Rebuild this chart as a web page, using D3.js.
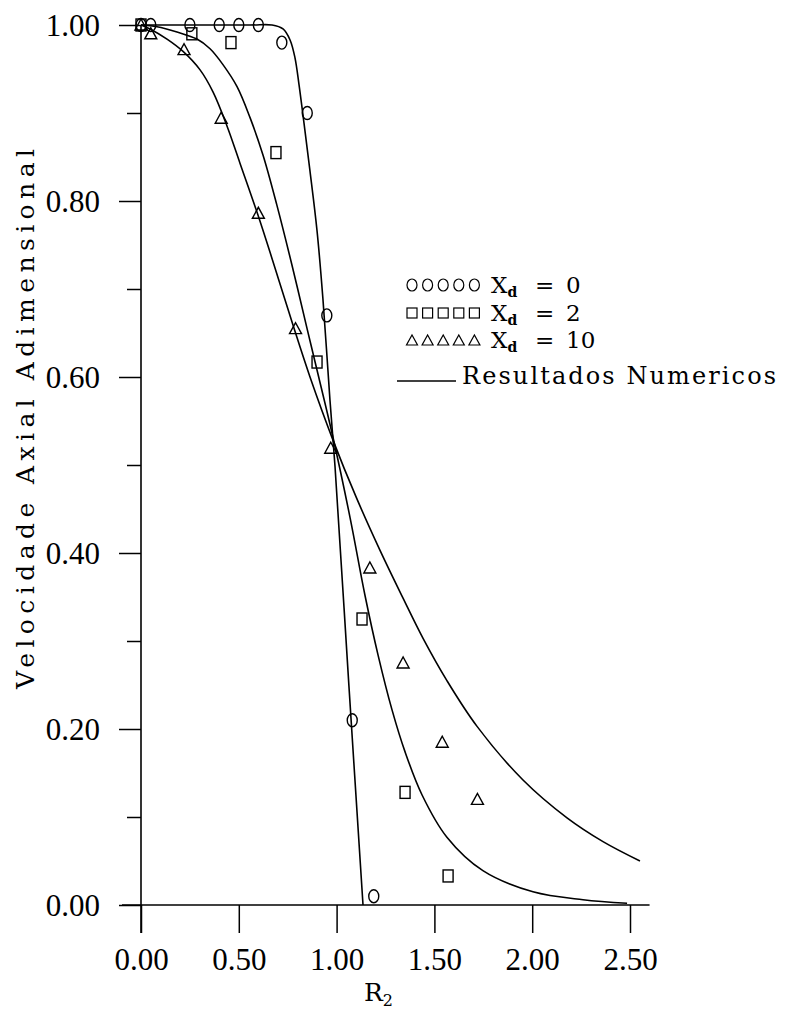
<!DOCTYPE html>
<html><head><meta charset="utf-8">
<script src="https://cdn.jsdelivr.net/npm/d3@7"></script>
<style>
html,body{margin:0;padding:0;background:#fff;}
svg{display:block;}
</style></head>
<body>
<svg id="chart" width="786" height="1013"></svg>
<script>
// ---- data ----
const circleX = [0.00, 0.05, 0.25, 0.40, 0.50, 0.60, 0.72, 0.85, 0.95, 1.08, 1.19];
const circleY = [1.00, 1.00, 1.00, 1.00, 1.00, 1.00, 0.98, 0.90, 0.67, 0.21, 0.01];

const squareX = [0.00, 0.26, 0.46, 0.69, 0.90, 1.13, 1.35, 1.57];
const squareY = [1.00, 0.99, 0.98, 0.855, 0.617, 0.325, 0.128, 0.033];

const triX = [0.00, 0.05, 0.22, 0.41, 0.60, 0.79, 0.97, 1.17, 1.34, 1.54, 1.72];
const triY = [1.00, 0.99, 0.972, 0.894, 0.786, 0.655, 0.519, 0.383, 0.275, 0.185, 0.12];

const curve0X = [0, 0.557, 0.670, 0.726, 0.762, 0.787, 0.808, 0.833, 0.864, 0.900, 0.930, 0.966, 0.992, 1.063, 1.135];
const curve0Y = [1, 1.0, 1.0, 0.9955, 0.983, 0.963, 0.932, 0.889, 0.834, 0.766, 0.689, 0.574, 0.498, 0.249, 0.0];

const curve2X = [0, 0.082, 0.184, 0.286, 0.353, 0.419, 0.491, 0.557, 0.624, 0.695, 0.772, 0.849, 0.890, 0.982, 1.069, 1.145, 1.212, 1.283, 1.350, 1.437, 1.564, 1.748, 2.004, 2.260, 2.485];
const curve2Y = [1, 0.998, 0.992, 0.984, 0.973, 0.955, 0.930, 0.895, 0.852, 0.795, 0.727, 0.655, 0.617, 0.531, 0.440, 0.352, 0.284, 0.222, 0.174, 0.125, 0.077, 0.039, 0.015, 0.006, 0.002];

const curve10X = [0, 0.046, 0.133, 0.215, 0.302, 0.368, 0.440, 0.506, 0.598, 0.675, 0.777, 0.864, 0.982, 1.099, 1.222, 1.339, 1.442, 1.564, 1.718, 1.953, 2.178, 2.362, 2.551];
const curve10Y = [1, 0.9955, 0.984, 0.970, 0.949, 0.924, 0.885, 0.843, 0.784, 0.731, 0.659, 0.600, 0.528, 0.464, 0.403, 0.349, 0.303, 0.255, 0.203, 0.142, 0.099, 0.072, 0.050];

const xTickValues = [0, 0.5, 1.0, 1.5, 2.0, 2.5];
const xTickLabels = ["0.00", "0.50", "1.00", "1.50", "2.00", "2.50"];
const yMajorValues = [0, 0.2, 0.4, 0.6, 0.8, 1.0];
const yTickLabels = ["0.00", "0.20", "0.40", "0.60", "0.80", "1.00"];
const yMinorValues = [0.1, 0.3, 0.5, 0.7, 0.9];

const legendValues = ["0", "2", "10"];
const legendLineLabel = "Resultados Numericos";
const xTitle = "R";
const xTitleSub = "2";
const yTitle = "Velocidade Axial Adimensional";

// ---- drawing ----
const svg = d3.select("#chart");
const x = d3.scaleLinear().domain([0, 2.5]).range([141, 630]);
const y = d3.scaleLinear().domain([0, 1]).range([905, 25]);
const ink = "#000";
const serif1 = '"Liberation Serif",serif';
const serif2 = '"DejaVu Serif",serif';

// axes
const gx = svg.append("g").attr("transform", `translate(0,${y(0)})`)
  .call(d3.axisBottom(x).tickValues(xTickValues).tickSize(28).tickPadding(15)
        .tickFormat((d, i) => xTickLabels[i]));
gx.select(".domain").remove();
gx.selectAll(".tick line").attr("stroke", ink).attr("stroke-width", 1.5);
gx.selectAll(".tick text").style("font-size", "31px").style("font-family", serif1)
  .attr("fill", ink).attr("dy", "0.72em");

const gy = svg.append("g").attr("transform", `translate(${x(0)},0)`)
  .call(d3.axisLeft(y).tickValues(yMajorValues).tickSize(22).tickPadding(19)
        .tickFormat((d, i) => yTickLabels[i]));
gy.select(".domain").remove();
gy.selectAll(".tick line").attr("stroke", ink).attr("stroke-width", 1.5);
gy.selectAll(".tick text").style("font-size", "31px").style("font-family", serif1)
  .attr("fill", ink).attr("dy", "0.35em");

const gyMinor = svg.append("g").attr("transform", `translate(${x(0)},0)`)
  .call(d3.axisLeft(y).tickValues(yMinorValues).tickSize(14).tickFormat(""));
gyMinor.select(".domain").remove();
gyMinor.selectAll(".tick line").attr("stroke", ink).attr("stroke-width", 1.5);

// axis lines
svg.append("line").attr("x1", x(0) - 19).attr("x2", x(2.6)).attr("y1", y(0)).attr("y2", y(0))
  .attr("stroke", ink).attr("stroke-width", 1.6);
svg.append("line").attr("x1", x(0)).attr("x2", x(0)).attr("y1", y(1)).attr("y2", y(0) + 28)
  .attr("stroke", ink).attr("stroke-width", 1.6);

// axis titles
const xt = svg.append("text").attr("x", 364).attr("y", 1001)
  .style("font-size", "25px").style("font-family", serif2).attr("fill", ink);
xt.append("tspan").text(xTitle);
xt.append("tspan").style("font-size", "16px").attr("dy", 5).text(xTitleSub);

svg.append("text")
  .attr("transform", `translate(34,419) rotate(-90)`)
  .attr("text-anchor", "middle")
  .style("font-size", "25px").style("font-family", serif2)
  .attr("textLength", 540).attr("lengthAdjust", "spacing")
  .attr("fill", ink)
  .text(yTitle);

// curves
const line = d3.line().x(d => x(d[0])).y(d => y(d[1])).curve(d3.curveCatmullRom.alpha(0.5));
[[curve0X, curve0Y], [curve2X, curve2Y], [curve10X, curve10Y]].forEach(([cx, cy]) => {
  svg.append("path").datum(cx.map((v, i) => [v, cy[i]]))
    .attr("d", line).attr("fill", "none").attr("stroke", ink).attr("stroke-width", 1.6);
});

// markers
function drawCircle(g, px, py) {
  g.append("ellipse").attr("cx", px).attr("cy", py).attr("rx", 5).attr("ry", 6.5)
    .attr("fill", "none").attr("stroke", ink).attr("stroke-width", 1.4);
}
function drawSquare(g, px, py) {
  g.append("rect").attr("x", px - 5).attr("y", py - 6).attr("width", 10).attr("height", 12)
    .attr("fill", "none").attr("stroke", ink).attr("stroke-width", 1.4);
}
function drawTri(g, px, py) {
  g.append("path").attr("d", `M${px - 6},${py + 5}L${px + 6},${py + 5}L${px},${py - 6}Z`)
    .attr("fill", "none").attr("stroke", ink).attr("stroke-width", 1.4);
}
const gm = svg.append("g");
circleX.forEach((v, i) => drawCircle(gm, x(v), y(circleY[i])));
squareX.forEach((v, i) => drawSquare(gm, x(v), y(squareY[i])));
triX.forEach((v, i) => drawTri(gm, x(v), y(triY[i])));

// legend
const lg = svg.append("g");
const rowY = [285, 313, 340];
rowY.forEach((ry, r) => {
  for (let k = 0; k < 5; k++) {
    const px = 412 + k * 15.6;
    if (r === 0) lg.append("ellipse").attr("cx", px).attr("cy", ry).attr("rx", 5).attr("ry", 6)
      .attr("fill", "none").attr("stroke", ink).attr("stroke-width", 1.2);
    else if (r === 1) lg.append("rect").attr("x", px - 5).attr("y", ry - 5).attr("width", 10).attr("height", 10)
      .attr("fill", "none").attr("stroke", ink).attr("stroke-width", 1.2);
    else lg.append("path").attr("d", `M${px - 5.5},${ry + 5}L${px + 5.5},${ry + 5}L${px},${ry - 5}Z`)
      .attr("fill", "none").attr("stroke", ink).attr("stroke-width", 1.2);
  }
  const t = lg.append("text").attr("x", 491).attr("y", ry + 8)
    .style("font-size", "23px").style("font-family", serif2).attr("fill", ink);
  t.append("tspan").text("X");
  t.append("tspan").style("font-size", "14px").style("font-weight", "bold").attr("dy", 4).text("d");
  lg.append("text").attr("x", 535).attr("y", ry + 8)
    .style("font-size", "23px").style("font-family", serif2).attr("fill", ink).text("=");
  lg.append("text").attr("x", 566).attr("y", ry + 8)
    .style("font-size", "23px").style("font-family", serif2).attr("fill", ink).text(legendValues[r]);
});
lg.append("line").attr("x1", 397).attr("x2", 456).attr("y1", 381).attr("y2", 381)
  .attr("stroke", ink).attr("stroke-width", 1.4);
lg.append("text").attr("x", 462).attr("y", 384)
  .style("font-size", "24px").style("font-family", serif2)
  .attr("textLength", 314).attr("lengthAdjust", "spacing").attr("fill", ink).text(legendLineLabel);
</script>
</body></html>
